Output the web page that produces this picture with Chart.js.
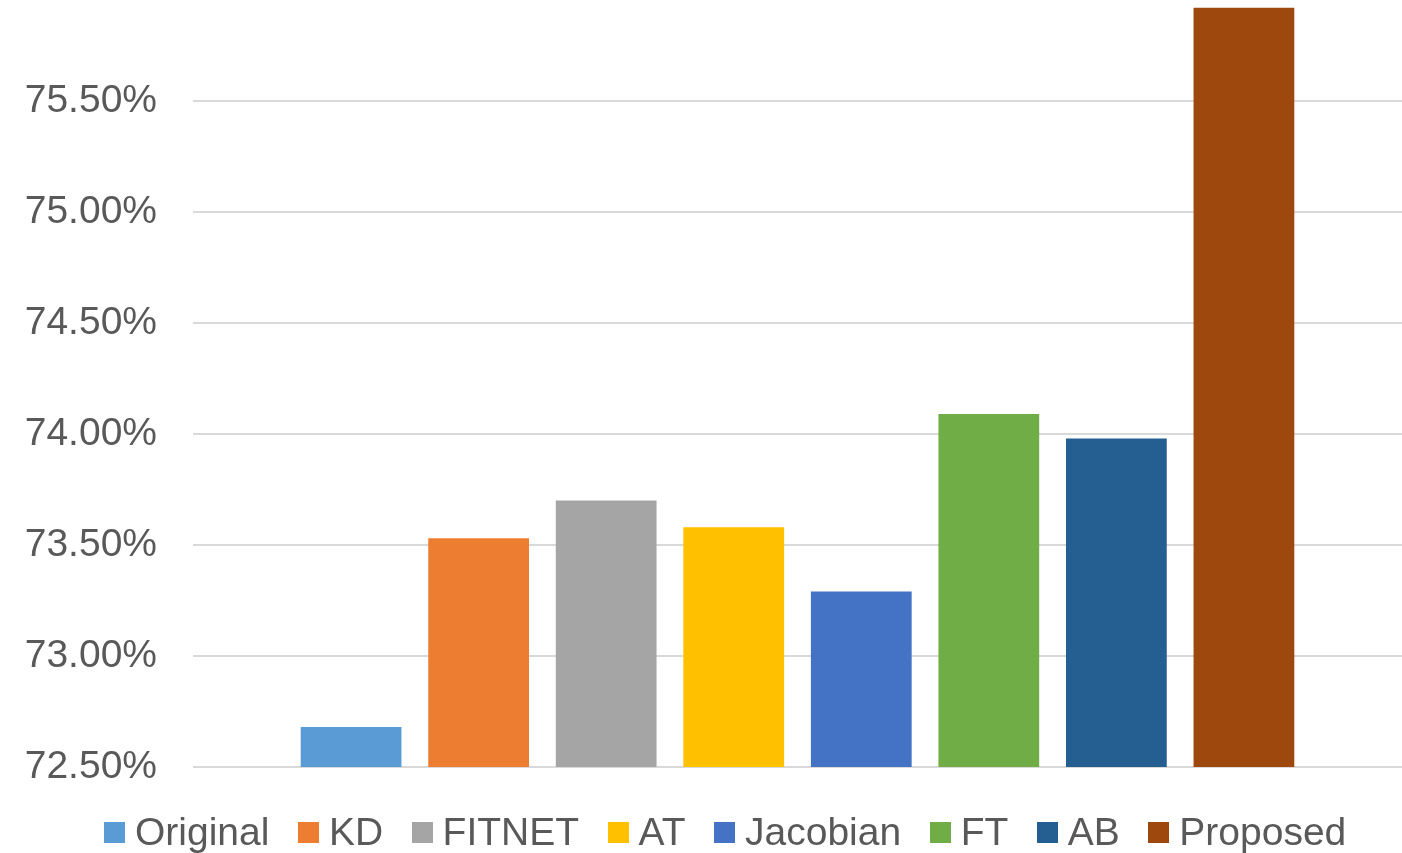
<!DOCTYPE html>
<html>
<head>
<meta charset="utf-8">
<script src="https://cdn.jsdelivr.net/npm/chart.js@4"></script>
<style>
  html, body { margin: 0; padding: 0; background: #fff; }
  #wrap { position: relative; width: 1402px; height: 853px; }
  #legend {
    position: absolute; left: 104px; top: 809px;
    display: flex; align-items: center;
    font-family: "Liberation Sans", Arial, sans-serif; font-size: 39px; line-height: 45px;
    color: #595959; white-space: nowrap;
  }
  #legend .item { display: flex; align-items: center; margin-right: 28.5px; }
  #legend .box { width: 21px; height: 21px; margin-right: 10px; margin-top: 1px; }
</style>
</head>
<body>
<div id="wrap">
  <canvas id="acc" width="1402" height="853"></canvas>
  <div id="legend"></div>
</div>
<script>
// accuracy of each method (percent)
const methods = ["Original", "KD", "FITNET", "AT", "Jacobian", "FT", "AB", "Proposed"];
const accuracy = [72.68, 73.53, 73.70, 73.58, 73.29, 74.09, 73.98, 75.92];
const colors = ["#5B9BD5", "#ED7D31", "#A5A5A5", "#FFC000", "#4472C4", "#70AD47", "#255E91", "#9E480E"];
const yMin = 72.5;
const yMax = 75.955;
const yStep = 0.5;

const font = "'Liberation Sans', Arial, sans-serif";

new Chart(document.getElementById('acc'), {
    type: 'bar',
    data: {
        labels: [''],
        datasets: methods.map((m, i) => ({
            label: m,
            data: [accuracy[i]],
            backgroundColor: colors[i],
            categoryPercentage: 0.844,
            barPercentage: 0.79
        }))
    },
    options: {
        responsive: false,
        animation: false,
        layout: { padding: { left: 1 } },
        plugins: {
            legend: { display: false },
            tooltip: { enabled: false }
        },
        scales: {
            x: {
                ticks: { display: false },
                grid: { display: false },
                border: { display: false },
                afterFit: s => { s.height = 86; }
            },
            y: {
                min: yMin,
                max: yMax,
                ticks: {
                    stepSize: yStep,
                    padding: 36,
                    color: '#595959',
                    font: { family: font, size: 39 },
                    callback: v => v.toFixed(2) + '%'
                },
                grid: { color: '#d9d9d9', lineWidth: 2, drawTicks: false },
                border: { display: false },
                afterBuildTicks: s => {
                    s.ticks = s.ticks.filter(t => Math.abs((t.value - yMin) / yStep - Math.round((t.value - yMin) / yStep)) < 1e-6);
                },
                afterFit: s => {
                    s.width = 192;
                    s.paddingTop = 0;
                    s.paddingBottom = 0;
                }
            }
        }
    }
});

// legend row
const legend = document.getElementById('legend');
methods.forEach((m, i) => {
    const item = document.createElement('div');
    item.className = 'item';
    const box = document.createElement('span');
    box.className = 'box';
    box.style.background = colors[i];
    const txt = document.createElement('span');
    txt.textContent = m;
    item.appendChild(box);
    item.appendChild(txt);
    legend.appendChild(item);
});
</script>
</body>
</html>
